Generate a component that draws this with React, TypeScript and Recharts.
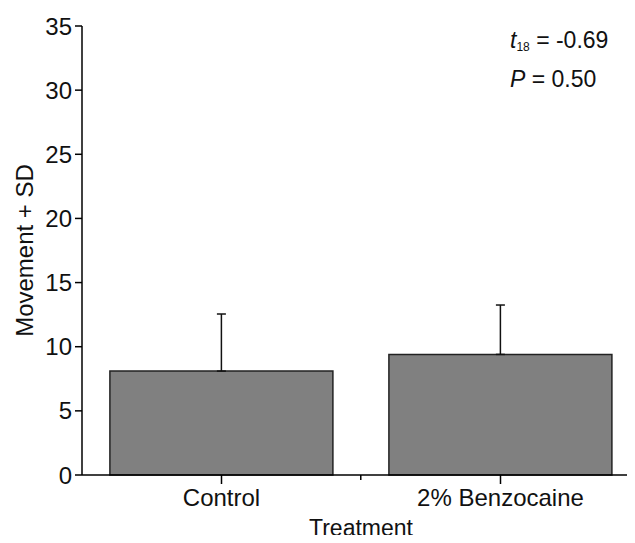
import { Bar, BarChart, ErrorBar, Rectangle, XAxis, YAxis } from 'recharts'

const treatments = ['Control', '2% Benzocaine']
const movementMeans = [8.1, 9.4]
const movementSD = [4.45, 3.85]
const yTicks = [0, 5, 10, 15, 20, 25, 30, 35]

const font = '"Liberation Sans", Arial, sans-serif'
const GAP = 0.1 // barCategoryGap on each side of a bar

const data = treatments.map((name, i) => ({
  name,
  mean: movementMeans[i],
  sd: [0, movementSD[i]],
}))

// bar + the short axis tick on the border after the first group
function BarWithEdge(props: any) {
  const { x, y, width, height, payload, index } = props
  const band = width / (1 - 2 * GAP)
  const edgeX = x + width + band * GAP
  const axisY = y + height
  const first = (index ?? 0) === 0 || payload?.name === treatments[0] || props.name === treatments[0]
  return (
    <g>
      <Rectangle {...props} />
      {first ? <path d={`M${edgeX},${axisY}V${axisY + 5}`} stroke="#000" strokeWidth={1.5} fill="none" /> : null}
    </g>
  )
}

export default function App() {
  return (
    <div style={{ position: 'relative', margin: -8, width: 635, height: 543, overflow: 'hidden', background: '#fff', fontFamily: font }}>
      <BarChart width={650} height={543} data={data} margin={{ top: 26, right: 10, bottom: 0, left: 0 }} barCategoryGap={`${GAP * 100}%`}>
        <XAxis
          dataKey="name"
          height={68}
          tickSize={9}
          tickMargin={5}
          axisLine={{ stroke: '#000', strokeWidth: 1.5 }}
          tickLine={{ stroke: '#000', strokeWidth: 1.5 }}
          tick={{ fontSize: 24, fill: '#111', fontFamily: font }}
          label={{ value: 'Treatment', position: 'insideBottom', offset: 7, fontSize: 23, fill: '#111', fontFamily: font }}
        />
        <YAxis
          width={82}
          domain={[0, 35]}
          ticks={yTicks}
          interval={0}
          tickSize={7}
          tickMargin={3}
          axisLine={{ stroke: '#000', strokeWidth: 1.5 }}
          tickLine={{ stroke: '#000', strokeWidth: 1.5 }}
          tick={{ fontSize: 24, fill: '#111', fontFamily: font }}
          label={{ value: 'Movement + SD', angle: -90, position: 'center', dx: -17, fontSize: 24, fill: '#111', fontFamily: font }}
        />
        <Bar dataKey="mean" fill="#808080" stroke="#222" strokeWidth={1.5} shape={BarWithEdge} isAnimationActive={false}>
          <ErrorBar dataKey="sd" direction="y" width={4.5} stroke="#111" strokeWidth={1.5} isAnimationActive={false} />
        </Bar>
      </BarChart>
      <div style={{ position: 'absolute', left: 510, top: 24, fontSize: 23, lineHeight: '32px', color: '#111' }}>
        <div>
          <i>t</i>
          <sub style={{ fontSize: 12, verticalAlign: '-3px' }}>18</sub> = -0.69
        </div>
        <div>
          <i>P</i> = 0.50
        </div>
      </div>
    </div>
  )
}
